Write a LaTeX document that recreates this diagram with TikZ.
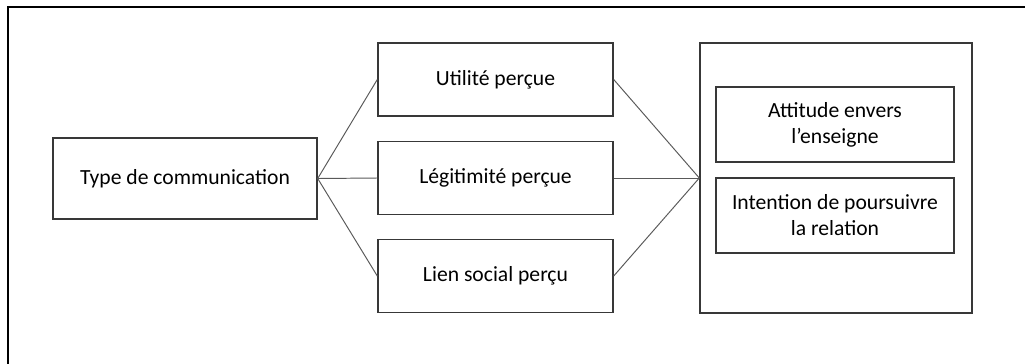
\documentclass[tikz,border=0pt]{standalone}
\usepackage{fontspec}
\setmainfont{Carlito}
\usepackage{tikz}
\usetikzlibrary{positioning,calc}

\begin{document}
\begin{tikzpicture}[
    box/.style={draw=black!78, line width=0.8pt, inner sep=0pt, align=center,
      minimum width=4.70cm, minimum height=1.46cm, font=\fontsize{12.3}{14.8}\selectfont},
    link/.style={draw=black!65, line width=0.55pt}]
  \clip (0, 0) rectangle (20.5, 7.26);
  % Outer frame
  \draw[line width=1.2pt] (0.16, -1) -- (0.16, 7.12) -- (21.5, 7.12);

  % Left box
  \node[box, minimum width=5.28cm, minimum height=1.62cm] (type) at (3.70, 3.69) {Type de communication};

  % Middle boxes
  \node[box] (util) at (9.91, 5.67) {Utilité perçue};
  \node[box] (legit) at (9.91, 3.70) {Légitimité perçue};
  \node[box] (lien) at (9.91, 1.74) {Lien social perçu};

  % Right box with the two outcomes
  \node[box, minimum width=5.44cm, minimum height=5.40cm] (outcome) at (16.72, 3.70) {};
  \node[box, minimum width=4.76cm, minimum height=1.50cm] (attitude) at (16.70, 4.77) {Attitude envers\\l’enseigne};
  \node[box, minimum width=4.76cm, minimum height=1.50cm] (intention) at (16.70, 2.95) {Intention de poursuivre\\la relation};

  % Connectors
  \draw[link] (util.west) -- (type.east) -- (lien.west);
  \draw[link] (type.east) -- (legit.west);
  \draw[link] (util.east) -- (outcome.west) -- (lien.east);
  \draw[link] (legit.east) -- (outcome.west);
\end{tikzpicture}
\end{document}
